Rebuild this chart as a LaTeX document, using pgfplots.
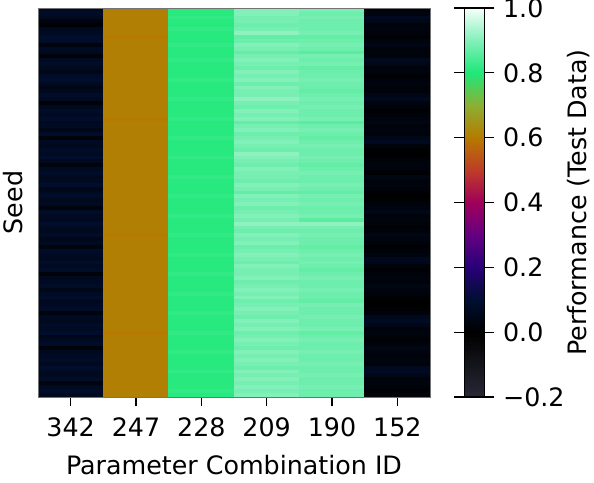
\documentclass[border=0pt]{standalone}
\usepackage{pgfplots}
\pgfplotsset{compat=1.18}
\usepackage{fontspec}
\setmainfont{DejaVu Sans}
\begin{document}
\fontsize{19}{23}\selectfont
\begin{tikzpicture}
\begin{axis}[
  scale only axis, width=294pt, height=291.75pt,
  xmin=-0.5, xmax=5.5, ymin=-0.5, ymax=99.5, y dir=reverse,
  xtick={0,1,2,3,4,5}, xticklabels={342,247,228,209,190,152},
  ytick=\empty,
  xlabel={Parameter Combination ID}, ylabel={Seed},
  xlabel style={yshift=-1pt}, ylabel style={yshift=-2pt},
  xticklabel style={yshift=-2pt},
  /pgf/number format/assume math mode=true,
  tick align=outside, major tick length=7pt,
  tick style={black, line width=0.9pt},
  xtick pos=bottom,
  axis line style={draw=black!55, line width=0.6pt},
  axis on top,
  colormap={perf}{rgb255(0cm)=(40,40,55); rgb255(2cm)=(0,0,0); rgb255(3cm)=(0,15,50); rgb255(4cm)=(40,0,120); rgb255(5cm)=(100,0,130); rgb255(6cm)=(160,0,90); rgb255(7cm)=(190,60,40); rgb255(8cm)=(182,122,0); rgb255(9cm)=(140,175,50); rgb255(10cm)=(30,232,120); rgb255(11cm)=(130,240,185); rgb255(12cm)=(245,255,250)},
  point meta min=-0.2, point meta max=1.0,
  colorbar,
  colorbar style={
    at={(parent axis.north east)}, anchor=north west, xshift=17.25pt,
    width=15pt, height=291.75pt,
    ytick={-0.2,0,0.2,0.4,0.6,0.8,1.0},
    yticklabels={−0.2,0.0,0.2,0.4,0.6,0.8,1.0},
    yticklabel pos=right,
    ylabel={Performance (Test Data)},
    ylabel shift=-11pt,
    tick align=outside, major tick length=7.5pt,
    tick style={black, line width=0.9pt},
    axis line style={black, line width=0.8pt},
  },
]
\addplot[matrix plot*, mesh/cols=6, mesh/rows=100, point meta=explicit]
table[row sep=\\, x expr={\coordindex-6*int((\coordindex+0.5)/6)}, y expr={int((\coordindex+0.5)/6)}, meta=c, skip coords between index={600}{700}]{
c\\
0.07\\ 0.61\\ 0.81\\ 0.90\\ 0.89\\ 0.02\\
0.08\\ 0.61\\ 0.81\\ 0.90\\ 0.88\\ 0.03\\
0.06\\ 0.61\\ 0.82\\ 0.89\\ 0.89\\ 0.06\\
0.03\\ 0.61\\ 0.81\\ 0.89\\ 0.88\\ 0.05\\
0.01\\ 0.61\\ 0.81\\ 0.88\\ 0.88\\ 0.02\\
0.06\\ 0.61\\ 0.82\\ 0.89\\ 0.88\\ 0.03\\
0.07\\ 0.61\\ 0.81\\ 0.91\\ 0.89\\ 0.02\\
0.09\\ 0.60\\ 0.81\\ 0.87\\ 0.87\\ 0.01\\
0.08\\ 0.61\\ 0.81\\ 0.88\\ 0.88\\ 0.03\\
0.03\\ 0.61\\ 0.82\\ 0.90\\ 0.89\\ 0.04\\
0.07\\ 0.61\\ 0.81\\ 0.89\\ 0.88\\ 0.02\\
0.06\\ 0.61\\ 0.81\\ 0.87\\ 0.86\\ 0.03\\
0.02\\ 0.61\\ 0.81\\ 0.89\\ 0.89\\ 0.02\\
0.07\\ 0.61\\ 0.82\\ 0.90\\ 0.88\\ 0.06\\
0.08\\ 0.61\\ 0.81\\ 0.89\\ 0.89\\ 0.05\\
0.06\\ 0.61\\ 0.81\\ 0.88\\ 0.87\\ 0.02\\
0.05\\ 0.61\\ 0.81\\ 0.90\\ 0.88\\ 0.03\\
0.08\\ 0.61\\ 0.81\\ 0.89\\ 0.88\\ 0.01\\
0.09\\ 0.61\\ 0.82\\ 0.90\\ 0.89\\ 0.02\\
0.07\\ 0.61\\ 0.81\\ 0.88\\ 0.88\\ 0.03\\
0.04\\ 0.61\\ 0.81\\ 0.90\\ 0.88\\ 0.02\\
0.06\\ 0.61\\ 0.81\\ 0.89\\ 0.87\\ 0.02\\
0.08\\ 0.61\\ 0.81\\ 0.89\\ 0.88\\ 0.04\\
0.07\\ 0.61\\ 0.82\\ 0.91\\ 0.89\\ 0.06\\
0.02\\ 0.61\\ 0.81\\ 0.89\\ 0.88\\ 0.03\\
0.06\\ 0.61\\ 0.81\\ 0.88\\ 0.89\\ 0.02\\
0.08\\ 0.61\\ 0.81\\ 0.90\\ 0.88\\ 0.01\\
0.07\\ 0.61\\ 0.81\\ 0.89\\ 0.88\\ 0.02\\
0.09\\ 0.60\\ 0.82\\ 0.90\\ 0.89\\ 0.03\\
0.06\\ 0.61\\ 0.81\\ 0.87\\ 0.86\\ 0.04\\
0.07\\ 0.61\\ 0.81\\ 0.89\\ 0.88\\ 0.02\\
0.05\\ 0.61\\ 0.81\\ 0.90\\ 0.89\\ 0.03\\
0.08\\ 0.61\\ 0.81\\ 0.88\\ 0.88\\ 0.02\\
0.02\\ 0.61\\ 0.82\\ 0.89\\ 0.87\\ 0.05\\
0.07\\ 0.61\\ 0.81\\ 0.90\\ 0.88\\ 0.06\\
0.06\\ 0.61\\ 0.81\\ 0.89\\ 0.89\\ 0.02\\
0.08\\ 0.61\\ 0.81\\ 0.88\\ 0.88\\ 0.01\\
0.07\\ 0.61\\ 0.81\\ 0.91\\ 0.88\\ 0.00\\
0.09\\ 0.61\\ 0.82\\ 0.90\\ 0.89\\ 0.01\\
0.06\\ 0.61\\ 0.81\\ 0.89\\ 0.88\\ 0.02\\
0.03\\ 0.61\\ 0.81\\ 0.88\\ 0.87\\ 0.03\\
0.07\\ 0.61\\ 0.81\\ 0.90\\ 0.88\\ 0.02\\
0.08\\ 0.61\\ 0.81\\ 0.89\\ 0.89\\ 0.01\\
0.06\\ 0.61\\ 0.82\\ 0.89\\ 0.88\\ 0.04\\
0.07\\ 0.61\\ 0.81\\ 0.88\\ 0.88\\ 0.02\\
0.09\\ 0.61\\ 0.81\\ 0.90\\ 0.89\\ 0.03\\
0.05\\ 0.61\\ 0.81\\ 0.89\\ 0.88\\ 0.02\\
0.07\\ 0.61\\ 0.81\\ 0.87\\ 0.87\\ 0.01\\
0.08\\ 0.61\\ 0.82\\ 0.90\\ 0.89\\ 0.00\\
0.06\\ 0.61\\ 0.81\\ 0.89\\ 0.88\\ 0.01\\
0.07\\ 0.61\\ 0.81\\ 0.90\\ 0.89\\ 0.02\\
0.02\\ 0.61\\ 0.81\\ 0.88\\ 0.88\\ 0.03\\
0.08\\ 0.61\\ 0.81\\ 0.89\\ 0.88\\ 0.05\\
0.07\\ 0.61\\ 0.82\\ 0.90\\ 0.89\\ 0.02\\
0.06\\ 0.61\\ 0.81\\ 0.89\\ 0.86\\ 0.03\\
0.09\\ 0.61\\ 0.81\\ 0.91\\ 0.91\\ 0.02\\
0.07\\ 0.61\\ 0.81\\ 0.89\\ 0.89\\ 0.01\\
0.06\\ 0.61\\ 0.81\\ 0.88\\ 0.88\\ 0.02\\
0.08\\ 0.60\\ 0.82\\ 0.90\\ 0.89\\ 0.04\\
0.05\\ 0.61\\ 0.81\\ 0.89\\ 0.88\\ 0.03\\
0.07\\ 0.61\\ 0.81\\ 0.90\\ 0.88\\ 0.02\\
0.03\\ 0.61\\ 0.81\\ 0.88\\ 0.87\\ 0.01\\
0.08\\ 0.61\\ 0.81\\ 0.89\\ 0.88\\ 0.02\\
0.07\\ 0.61\\ 0.82\\ 0.90\\ 0.89\\ 0.03\\
0.06\\ 0.61\\ 0.81\\ 0.89\\ 0.88\\ 0.06\\
0.09\\ 0.61\\ 0.81\\ 0.88\\ 0.89\\ 0.05\\
0.07\\ 0.61\\ 0.81\\ 0.90\\ 0.88\\ 0.02\\
0.08\\ 0.61\\ 0.81\\ 0.89\\ 0.87\\ 0.01\\
0.02\\ 0.61\\ 0.82\\ 0.89\\ 0.88\\ 0.02\\
0.06\\ 0.61\\ 0.81\\ 0.90\\ 0.89\\ 0.03\\
0.07\\ 0.61\\ 0.81\\ 0.88\\ 0.88\\ 0.02\\
0.08\\ 0.61\\ 0.81\\ 0.89\\ 0.88\\ 0.04\\
0.05\\ 0.61\\ 0.81\\ 0.90\\ 0.89\\ 0.03\\
0.07\\ 0.61\\ 0.82\\ 0.89\\ 0.88\\ 0.02\\
0.09\\ 0.61\\ 0.81\\ 0.90\\ 0.88\\ 0.01\\
0.06\\ 0.61\\ 0.81\\ 0.88\\ 0.87\\ 0.00\\
0.07\\ 0.61\\ 0.81\\ 0.89\\ 0.89\\ 0.00\\
0.08\\ 0.61\\ 0.81\\ 0.90\\ 0.88\\ 0.01\\
0.03\\ 0.61\\ 0.82\\ 0.89\\ 0.88\\ 0.02\\
0.07\\ 0.61\\ 0.81\\ 0.88\\ 0.89\\ 0.06\\
0.06\\ 0.61\\ 0.81\\ 0.90\\ 0.88\\ 0.07\\
0.08\\ 0.61\\ 0.81\\ 0.89\\ 0.88\\ 0.05\\
0.07\\ 0.61\\ 0.81\\ 0.90\\ 0.89\\ 0.02\\
0.09\\ 0.60\\ 0.82\\ 0.88\\ 0.87\\ 0.03\\
0.05\\ 0.61\\ 0.81\\ 0.89\\ 0.88\\ 0.02\\
0.07\\ 0.61\\ 0.81\\ 0.90\\ 0.89\\ 0.01\\
0.08\\ 0.61\\ 0.81\\ 0.89\\ 0.88\\ 0.02\\
0.02\\ 0.61\\ 0.81\\ 0.88\\ 0.88\\ 0.04\\
0.06\\ 0.61\\ 0.82\\ 0.90\\ 0.89\\ 0.03\\
0.07\\ 0.61\\ 0.81\\ 0.89\\ 0.88\\ 0.02\\
0.08\\ 0.61\\ 0.81\\ 0.90\\ 0.88\\ 0.03\\
0.06\\ 0.61\\ 0.81\\ 0.89\\ 0.89\\ 0.02\\
0.09\\ 0.61\\ 0.81\\ 0.88\\ 0.88\\ 0.06\\
0.07\\ 0.61\\ 0.82\\ 0.90\\ 0.88\\ 0.07\\
0.06\\ 0.61\\ 0.81\\ 0.89\\ 0.89\\ 0.05\\
0.08\\ 0.61\\ 0.81\\ 0.90\\ 0.88\\ 0.02\\
0.03\\ 0.61\\ 0.81\\ 0.89\\ 0.88\\ 0.03\\
0.07\\ 0.61\\ 0.81\\ 0.90\\ 0.89\\ 0.02\\
0.08\\ 0.61\\ 0.82\\ 0.89\\ 0.88\\ 0.01\\
0.06\\ 0.61\\ 0.81\\ 0.90\\ 0.88\\ 0.02\\
};
\coordinate (sw) at (rel axis cs:0,0);
\coordinate (ne) at (rel axis cs:1,1);
\end{axis}
\pgfresetboundingbox
\path[use as bounding box] ([shift={(-28.5pt,-63.75pt)}]sw) rectangle ([shift={(123pt,6pt)}]ne);
\end{tikzpicture}
\end{document}
